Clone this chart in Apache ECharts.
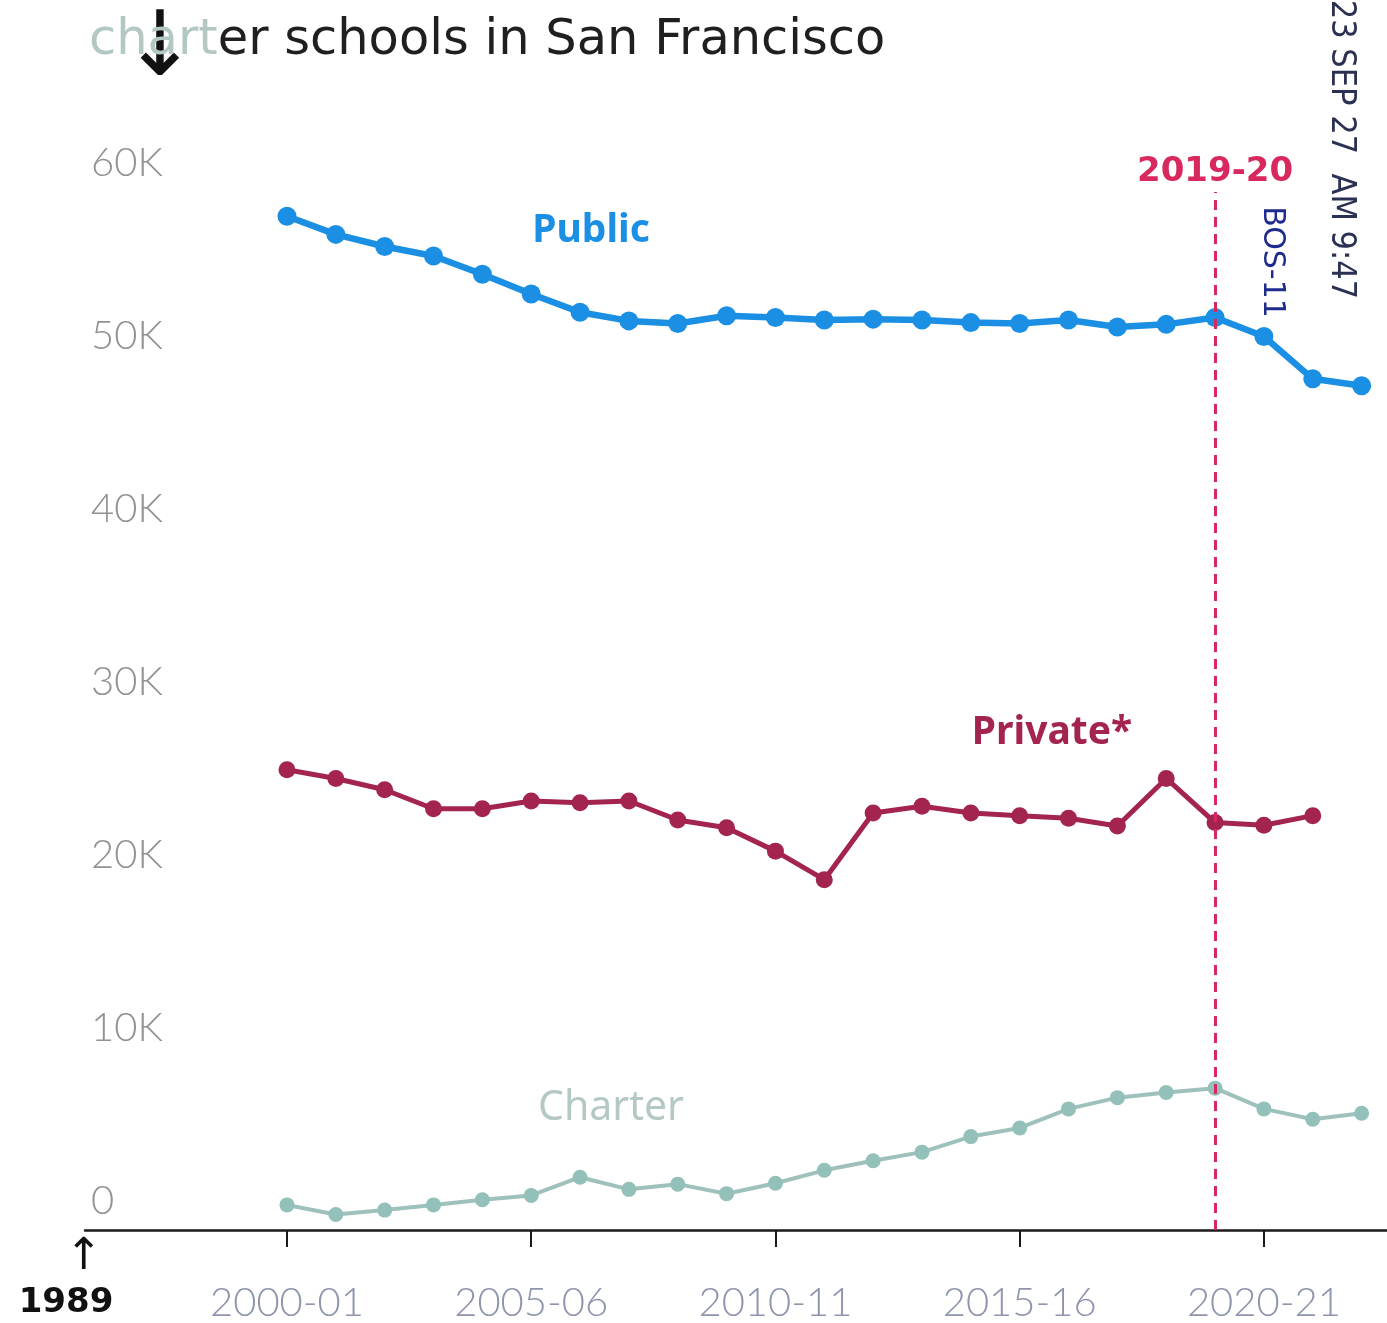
<!DOCTYPE html>
<html>
<head>
<meta charset="utf-8">
<script src="https://cdn.jsdelivr.net/npm/echarts@6/dist/echarts.min.js"></script>
<style>
html,body{margin:0;padding:0;background:#ffffff;}
#chart{width:1387px;height:1323px;}
</style>
</head>
<body>
<div id="chart"></div>
<script>
// School years (x = first calendar year of the school year)
const categories = ['2000-01','2001-02','2002-03','2003-04','2004-05','2005-06','2006-07','2007-08','2008-09','2009-10','2010-11','2011-12','2012-13','2013-14','2014-15','2015-16','2016-17','2017-18','2018-19','2019-20','2020-21','2021-22','2022-23'];
// Enrollment values
const publicValues  = [58600,57550,56850,56300,55250,54100,53050,52550,52400,52850,52750,52600,52650,52600,52450,52400,52600,52200,52350,52750,51650,49200,48800];
const privateValues = [26600,26100,25450,24350,24350,24800,24700,24800,23700,23250,21900,20250,24100,24500,24100,23950,23800,23350,26100,23550,23400,23950];
const charterValues = [1450,900,1150,1450,1750,2000,3050,2350,2650,2100,2700,3450,4000,4500,5400,5900,7000,7650,7950,8200,7000,6400,6750];
const xTickLabels = ['2000-01','2005-06','2010-11','2015-16','2020-21'];
const yTickValues = [0,10000,20000,30000,40000,50000,60000];
const highlightYear = '2019-20';

const toYear = s => parseInt(s.slice(0,4), 10);
const pairs = vals => vals.map((v,i) => [toYear(categories[i]), v]);
const xTickYears = xTickLabels.map(toYear);

const chart = echarts.init(document.getElementById('chart'), null, {renderer:'canvas'});
const option = {
  animation: false,
  backgroundColor: '#ffffff',
  title: {
    text: '{a|chart}{b|er schools in San Francisco}',
    left: 89, top: 14, padding: 0,
    textStyle: {
      fontWeight: 'normal',
      rich: {
        a: {fontFamily:'DejaVu Sans', fontWeight:'normal', fontSize:49.5, lineHeight:54, color:'#b3c8c4'},
        b: {fontFamily:'DejaVu Sans', fontWeight:'normal', fontSize:49.5, lineHeight:54, color:'#1f1f1f'}
      }
    }
  },
  grid: {left:85, right:0, top:19, bottom:90, containLabel:false},
  xAxis: {
    type:'value', min:1995.865, max:2022.52,
    axisLine: {show:true, lineStyle:{color:'#1a1a1a', width:2.5}},
    axisTick: {show:true, customValues: xTickYears, length:17, lineStyle:{color:'#1a1a1a', width:2}},
    axisLabel: {
      show:true, customValues: xTickYears, margin:53,
      formatter: v => categories.find(c => toYear(c) === Math.round(v)) || '',
      fontFamily:'Lato', fontWeight:300, fontSize:40, color:'#8e95ad'
    },
    splitLine: {show:false}
  },
  yAxis: {
    type:'value', min:0, max:70000, interval:10000,
    axisLine:{show:false}, axisTick:{show:false}, splitLine:{show:false},
    axisLabel: {
      inside:true, margin:6,
      formatter: v => yTickValues.indexOf(v) < 0 ? '' : (v === 0 ? '0' : (v/1000) + 'K'),
      fontFamily:'Lato', fontWeight:300, fontSize:40, color:'#929292',
      verticalAlign:'bottom', lineHeight:58
    }
  },
  graphic: [
    {type:'text', x:591, y:231, style:{text:'Public', fontFamily:'Noto Sans', fontWeight:'bold', fontSize:39, fill:'#1a8fe3', align:'center', verticalAlign:'middle'}},
    {type:'text', x:1052, y:733, style:{text:'Private*', fontFamily:'Noto Sans', fontWeight:'bold', fontSize:39, fill:'#a3244f', align:'center', verticalAlign:'middle'}},
    {type:'text', x:611, y:1108, style:{text:'Charter', fontFamily:'Noto Sans', fontWeight:'normal', fontSize:41, fill:'#b4c8c6', align:'center', verticalAlign:'middle'}},
    {type:'text', x:66, y:1303, style:{text:'1989', fontFamily:'DejaVu Sans', fontWeight:'bold', fontSize:34, fill:'#111111', align:'center', verticalAlign:'middle'}},
    {type:'text', x:84, y:1258, style:{text:'↑', fontFamily:'DejaVu Sans', fontSize:44, fill:'#111111', align:'center', verticalAlign:'middle'}},
    {type:'text', x:160, y:52, style:{text:'↓', fontFamily:'DejaVu Sans', fontSize:90, fill:'#111111', align:'center', verticalAlign:'middle'}},
    {type:'text', x:1341, y:130, rotation:-Math.PI/2, style:{text:'2023 SEP 27  AM 9:47', fontFamily:'Liberation Sans Narrow, DejaVu Sans Condensed, DejaVu Sans', fontSize:34, fill:'#2b3152', align:'center', verticalAlign:'middle'}},
    {type:'text', x:1272, y:262, rotation:-Math.PI/2, style:{text:'BOS-11', fontFamily:'DejaVu Sans', fontSize:30, fill:'#1d2b8c', align:'center', verticalAlign:'middle'}}
  ],
  series: [
    {
      name:'Charter', type:'line', data: pairs(charterValues),
      symbol:'circle', symbolSize:15, showSymbol:true,
      lineStyle:{color:'#9fc1bc', width:4}, itemStyle:{color:'#93c0b9'}, z:2
    },
    {
      name:'Private', type:'line', data: pairs(privateValues),
      symbol:'circle', symbolSize:17, showSymbol:true,
      lineStyle:{color:'#a3244f', width:5}, itemStyle:{color:'#a3244f'}, z:3
    },
    {
      name:'Public', type:'line', data: pairs(publicValues),
      symbol:'circle', symbolSize:19, showSymbol:true,
      lineStyle:{color:'#1a8fe3', width:6.5}, itemStyle:{color:'#1a8fe3'}, z:4,
      markLine: {
        silent:true, symbol:'none', z:10,
        lineStyle:{color:'#d8285e', width:3, type:[10,7]},
        label:{show:true, position:'end', distance:3, formatter: highlightYear,
               fontFamily:'DejaVu Sans', fontWeight:'bold', fontSize:34, color:'#d8285e'},
        data: [[{coord:[toYear(highlightYear), 0]}, {coord:[toYear(highlightYear), 60000]}]]
      }
    }
  ]
};
chart.setOption(option);
</script>
</body>
</html>
